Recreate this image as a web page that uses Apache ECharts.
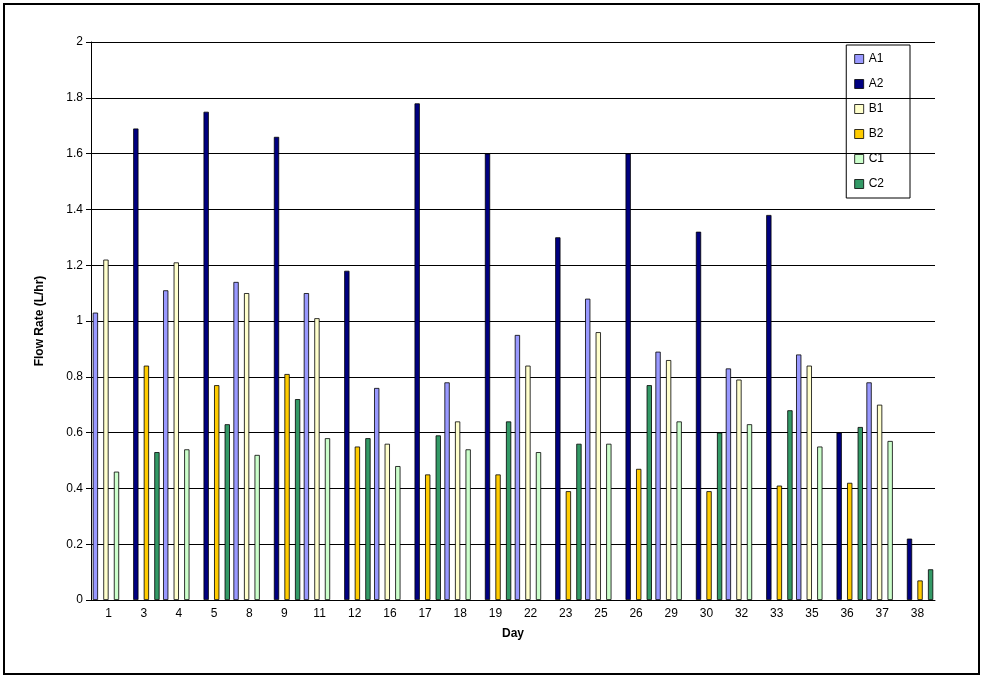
<!DOCTYPE html>
<html><head><meta charset="utf-8">
<script src="https://cdn.jsdelivr.net/npm/echarts@6/dist/echarts.min.js"></script>
<style>
html,body{margin:0;padding:0;background:#fff}
#c{position:absolute;left:3px;top:3px;width:977px;height:672px;border:2px solid #000;box-sizing:border-box}
</style></head>
<body><div id="c"></div>
<script>
// 天数
const days = ['1','3','4','5','8','9','11','12','16','17','18','19','22','23','25','26','29','30','32','33','35','36','37','38'];
const yTicks = [0,0.2,0.4,0.6,0.8,1,1.2,1.4,1.6,1.8,2];

// 各系列流量 (null 表示没有数据)
const a1 = [1.03,null,1.11,null,1.14,null,1.10,null,0.76,null,0.78,null,0.95,null,1.08,null,0.89,null,0.83,null,0.88,null,0.78,null];
const a2 = [null,1.69,null,1.75,null,1.66,null,1.18,null,1.78,null,1.60,null,1.30,null,1.60,null,1.32,null,1.38,null,0.60,null,0.22];
const b1 = [1.22,null,1.21,null,1.10,null,1.01,null,0.56,null,0.64,null,0.84,null,0.96,null,0.86,null,0.79,null,0.84,null,0.70,null];
const b2 = [null,0.84,null,0.77,null,0.81,null,0.55,null,0.45,null,0.45,null,0.39,null,0.47,null,0.39,null,0.41,null,0.42,null,0.07];
const c1 = [0.46,null,0.54,null,0.52,null,0.58,null,0.48,null,0.54,null,0.53,null,0.56,null,0.64,null,0.63,null,0.55,null,0.57,null];
const c2 = [null,0.53,null,0.63,null,0.72,null,0.58,null,0.59,null,0.64,null,0.56,null,0.77,null,0.60,null,0.68,null,0.62,null,0.11];

const names = ['A1','A2','B1','B2','C1','C2'];
const colors = ['#9999FF','#000080','#FFFFCC','#FFCC00','#CCFFCC','#339966'];
const datas = [a1,a2,b1,b2,c1,c2];

const chart = echarts.init(document.getElementById('c'));

const series = names.map((n,i) => ({
  name: n,
  type: 'bar',
  data: datas[i],
  barGap: '0%',
  barCategoryGap: '10%',
  itemStyle: { color: colors[i], borderColor: '#000', borderWidth: 0.8 }
}));

chart.setOption({
  animation: false,
  textStyle: { fontFamily: 'Liberation Sans, Arial' },
  grid: { left: 86, right: 43, top: 37, bottom: 73 },
  legend: {
    orient: 'vertical',
    right: 68, top: 40,
    icon: 'rect',
    itemWidth: 9, itemHeight: 9, itemGap: 13,
    padding: [8, 26, 8, 8],
    borderColor: '#000', borderWidth: 1,
    textStyle: { fontSize: 12, color: '#000' },
    data: names.map((n,i) => ({ name: n, itemStyle: { color: colors[i], borderColor: '#000', borderWidth: 0.8 } }))
  },
  xAxis: {
    type: 'category',
    data: days,
    name: 'Day',
    nameLocation: 'middle',
    nameGap: 28,
    nameTextStyle: { fontWeight: 'bold', fontSize: 12, color: '#000' },
    axisLine: { lineStyle: { color: '#000' } },
    axisTick: { lineStyle: { color: '#000' }, length: 5 },
    axisLabel: { color: '#000', fontSize: 12 }
  },
  yAxis: {
    type: 'value',
    min: yTicks[0], max: yTicks[yTicks.length-1], interval: 0.2,
    name: 'Flow Rate (L/hr)',
    nameLocation: 'middle',
    nameGap: 45,
    nameTextStyle: { fontWeight: 'bold', fontSize: 12, color: '#000' },
    axisLine: { show: true, lineStyle: { color: '#000' } },
    axisTick: { show: true, lineStyle: { color: '#000' } },
    axisLabel: { color: '#000', fontSize: 12, formatter: v => String(+v.toFixed(1)) },
    splitLine: { lineStyle: { color: '#000', width: 1 } }
  },
  series: series
});
</script>
</body></html>
